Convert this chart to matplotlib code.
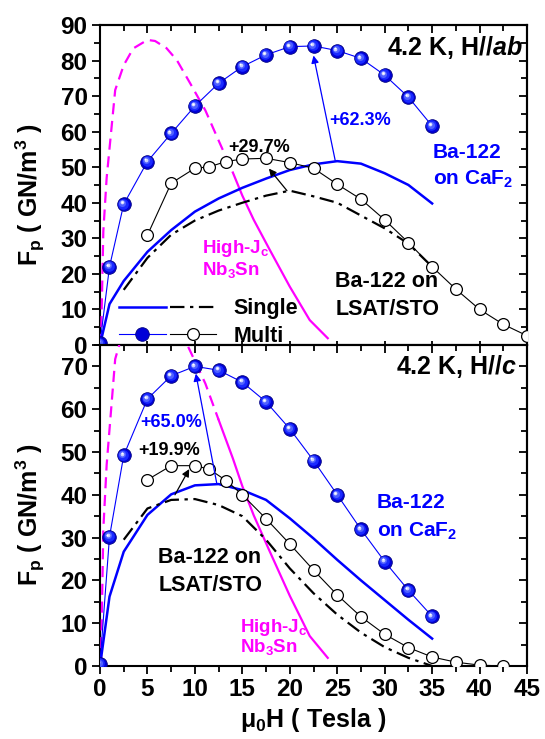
import matplotlib
matplotlib.use('Agg')
import matplotlib.pyplot as plt
from matplotlib.lines import Line2D
from matplotlib.legend_handler import HandlerTuple
from matplotlib.transforms import ScaledTranslation
from matplotlib.ticker import MultipleLocator

# ---------------- data ----------------
# field grid used for the Ba-122 on CaF2 curves
field_caf2 = [0, 1, 2.5, 5, 7.5, 10, 12.5, 15, 17.5, 20, 22.5, 25, 27.5, 30, 32.5, 35]

# H // ab
caf2_ab_multi = [0.5, 22.0, 39.6, 51.6, 59.5, 67.2, 73.6, 78.3, 81.6, 83.9, 84.1, 82.8, 80.6, 75.9, 69.7, 61.6]
caf2_ab_single = [0, 11.5, 18.0, 26.2, 32.3, 37.5, 41.2, 44.2, 46.8, 49.2, 50.8, 51.7, 51.0, 48.3, 45.0, 39.8]

field_lsat_single = [2.5, 5, 7.5, 10, 12.5, 15, 17.5, 20, 22.5, 25, 27.5, 30, 32.5, 35]
lsat_ab_single = [15.5, 24.5, 31.0, 35.0, 37.8, 40.0, 42.0, 43.4, 41.8, 40.0, 36.4, 32.8, 28.5, 22.0]

field_lsat_ab_multi = [5, 7.5, 10, 11.5, 13.3, 15, 17.5, 20, 22.5, 25, 27.5, 30, 32.5, 35, 37.5, 40, 42.5, 45]
lsat_ab_multi = [30.9, 45.5, 49.7, 50.1, 51.6, 52.3, 52.5, 51.3, 49.7, 45.2, 41.0, 35.2, 28.8, 22.0, 15.7, 10.0, 5.8, 2.6]

# H // c
caf2_c_multi = [0.5, 30.2, 49.2, 62.4, 67.8, 70.0, 69.1, 66.3, 61.7, 55.4, 48.0, 40.0, 31.9, 24.4, 17.7, 11.6]
caf2_c_single = [0, 16.2, 26.7, 35.3, 40.1, 42.2, 42.5, 41.1, 38.8, 34.5, 29.8, 24.8, 20.0, 15.4, 10.8, 6.4]

lsat_c_single = [29.5, 36.8, 38.8, 39.0, 37.6, 35.0, 29.5, 22.8, 17.0, 12.0, 7.8, 4.4, 1.9, 0.0]

field_lsat_c_multi = [5, 7.5, 10, 11.5, 13.3, 15, 17.5, 20, 22.5, 25, 27.5, 30, 32.5, 35, 37.5, 40, 42.5]
lsat_c_multi = [43.5, 46.8, 46.8, 46.0, 43.3, 40.0, 34.4, 28.5, 22.4, 16.6, 11.5, 7.4, 4.3, 2.1, 0.9, 0.2, 0.0]

# High-Jc Nb3Sn reference curve (same in both panels)
nb3sn_field = [0.1, 0.35, 0.7, 1.6, 2.5, 3.5, 5.0, 5.8, 7.0, 8.1, 9.5, 11.1, 12.5, 14.0, 15.0, 16.2, 17.9, 20.0, 22.1, 24.0]
nb3sn_fp = [0, 32, 47, 71.7, 78.7, 83.4, 85.8, 85.5, 83.5, 80.1, 73.6, 66.0, 57.5, 48.5, 42.0, 35.2, 26.7, 16.4, 7.0, 1.9]
nb3sn_dashed_until_ab = 14.0
nb3sn_dashed_until_c = 12.5

xticks = [0, 5, 10, 15, 20, 25, 30, 35, 40, 45]

# ---------------- style ----------------
plt.rcParams.update({
    'font.family': ['Liberation Sans', 'DejaVu Sans'],
    'font.weight': 'bold',
    'axes.labelweight': 'bold',
    'mathtext.fontset': 'custom',
    'mathtext.rm': 'Liberation Sans:bold',
    'mathtext.it': 'Liberation Sans:italic:bold',
    'mathtext.bf': 'Liberation Sans:bold',
    'mathtext.default': 'rm',
    'axes.linewidth': 1.5,
})

BLUE = '#0000ff'
MAG = '#ff00ff'

fig = plt.figure(figsize=(5.45, 7.39), dpi=100)
ax1 = fig.add_axes([0.1835, 0.5332, 0.7835, 0.4330])
ax2 = fig.add_axes([0.1835, 0.0988, 0.7835, 0.4344])


def spheres(ax, x, y, ms=9.8):
    ax.plot(x, y, '-', color=BLUE, lw=0.8, zorder=4)
    ax.plot(x, y, 'o', ms=ms, mfc='#0000d8', mec='#000080', mew=0.6, ls='none', zorder=6)
    for size, col, off in [(0.78, '#1a2aff', 0.45), (0.52, '#4f60ff', 0.9), (0.28, '#c8d0ff', 1.3),
                           (0.14, '#ffffff', 1.5)]:
        tr = ax.transData + ScaledTranslation(-off / 72, off / 72, fig.dpi_scale_trans)
        ax.plot(x, y, 'o', ms=ms * size, mfc=col, mec='none', ls='none', transform=tr, zorder=7)


def open_circles(ax, x, y):
    ax.plot(x, y, '-', color='black', lw=0.8, zorder=4,
            marker='o', ms=8.5, mfc='white', mec='black', mew=0.9)


def nb3sn(ax, split):
    xd = [v for v in nb3sn_field if v <= split]
    yd = nb3sn_fp[:len(xd)]
    xs = nb3sn_field[len(xd) - 1:]
    ys = nb3sn_fp[len(xd) - 1:]
    ax.plot(xd, yd, color=MAG, lw=1.6, ls=(0, (5, 3)), zorder=3)
    ax.plot(xs, ys, color=MAG, lw=1.6, zorder=3)


def arrow(ax, start, end, color):
    ax.annotate('', xy=end, xytext=start,
                arrowprops=dict(arrowstyle='-|>', color=color, lw=0.9,
                                mutation_scale=11, shrinkA=0, shrinkB=0), zorder=8)


DASHDOT = (0, (6.5, 2.5, 1.5, 2.5))

# ---------- top panel: H // ab ----------
nb3sn(ax1, nb3sn_dashed_until_ab)
ax1.plot(field_caf2, caf2_ab_single, color=BLUE, lw=1.8, zorder=3)
ax1.plot(field_lsat_single, lsat_ab_single, color='black', lw=1.6, ls=DASHDOT, zorder=3)
open_circles(ax1, field_lsat_ab_multi, lsat_ab_multi)
spheres(ax1, field_caf2, caf2_ab_multi)

arrow(ax1, (24.8, 51.7), (22.5, 81.4), BLUE)
arrow(ax1, (19.7, 43.4), (17.8, 49.6), 'black')

ax1.text(44.6, 81.6, '4.2 K, H//$\\mathit{ab}$', ha='right', va='baseline', fontsize=18)
ax1.text(24.2, 62.0, '+62.3%', color=BLUE, fontsize=13, va='baseline')
ax1.text(13.5, 54.3, '+29.7%', color='black', fontsize=13, va='baseline')
ax1.text(35.1, 52.6, 'Ba-122', color=BLUE, fontsize=15, va='baseline')
ax1.text(35.1, 45.0, 'on CaF$_2$', color=BLUE, fontsize=15, va='baseline')
ax1.text(10.7, 25.8, 'High-J$_c$', color=MAG, fontsize=13.5, va='baseline')
ax1.text(10.7, 19.7, 'Nb$_3$Sn', color=MAG, fontsize=13.5, va='baseline')
ax1.text(24.8, 16.4, 'Ba-122 on', color='black', fontsize=15.5, va='baseline')
ax1.text(24.8, 8.4, 'LSAT/STO', color='black', fontsize=15.5, va='baseline')

# legend
h_single_b = Line2D([], [], color=BLUE, lw=1.8)
h_single_k = Line2D([], [], color='black', lw=1.6, ls=DASHDOT)
h_multi_b = Line2D([], [], color=BLUE, lw=0.8, marker='o', ms=9.8, mfc='#0000d8', mec='#000080', mew=0.6)
h_multi_k = Line2D([], [], color='black', lw=0.8, marker='o', ms=8.5, mfc='white', mec='black', mew=0.9)
ax1.legend([(h_single_b, h_single_k), (h_multi_b, h_multi_k)], ['Single', 'Multi'],
           handler_map={tuple: HandlerTuple(ndivide=None, pad=0.2)},
           loc='center left', bbox_to_anchor=(0.045, 0.07), frameon=False,
           fontsize=15.5, handlelength=4.5, handletextpad=0.8, labelspacing=0.3,
           borderpad=0, borderaxespad=0, numpoints=1)

# ---------- bottom panel: H // c ----------
nb3sn(ax2, nb3sn_dashed_until_c)
ax2.plot(field_caf2, caf2_c_single, color=BLUE, lw=1.8, zorder=3)
ax2.plot(field_lsat_single, lsat_c_single, color='black', lw=1.6, ls=DASHDOT, zorder=3)
open_circles(ax2, field_lsat_c_multi, lsat_c_multi)
spheres(ax2, field_caf2, caf2_c_multi)

arrow(ax2, (12.3, 42.7), (10.1, 68.3), BLUE)
arrow(ax2, (7.9, 40.0), (9.4, 46.0), 'black')

ax2.text(44.0, 68.1, '4.2 K, H//$\\mathit{c}$', ha='right', va='baseline', fontsize=18)
ax2.text(4.2, 55.8, '+65.0%', color=BLUE, fontsize=13, va='baseline')
ax2.text(4.0, 49.3, '+19.9%', color='black', fontsize=13, va='baseline')
ax2.text(29.2, 36.9, 'Ba-122', color=BLUE, fontsize=15, va='baseline')
ax2.text(29.2, 30.2, 'on CaF$_2$', color=BLUE, fontsize=15, va='baseline')
ax2.text(6.15, 24.1, 'Ba-122 on', color='black', fontsize=15.5, va='baseline')
ax2.text(6.15, 17.6, 'LSAT/STO', color='black', fontsize=15.5, va='baseline')
ax2.text(14.75, 8.0, 'High-J$_c$', color=MAG, fontsize=13.5, va='baseline')
ax2.text(14.75, 3.3, 'Nb$_3$Sn', color=MAG, fontsize=13.5, va='baseline')

# ---------- axes ----------
for ax, ymax in ((ax1, 90), (ax2, 75)):
    ax.set_xlim(0, 45)
    ax.set_ylim(0, ymax)
    ax.set_xticks(xticks)
    ax.xaxis.set_minor_locator(MultipleLocator(2.5))
    ax.yaxis.set_major_locator(MultipleLocator(10))
    ax.yaxis.set_minor_locator(MultipleLocator(5))
    ax.tick_params(which='both', direction='out', width=1.3, labelsize=17.5, pad=3)
    ax.tick_params(which='major', length=6)
    ax.tick_params(which='minor', length=4)
    sx = ax.secondary_xaxis('top')
    sx.set_xticks(xticks)
    sx.xaxis.set_minor_locator(MultipleLocator(2.5))
    sx.tick_params(which='both', direction='in', width=1.3, labeltop=False)
    sx.tick_params(which='major', length=6)
    sx.tick_params(which='minor', length=4)
    sy = ax.secondary_yaxis('right')
    sy.yaxis.set_major_locator(MultipleLocator(10))
    sy.yaxis.set_minor_locator(MultipleLocator(5))
    sy.tick_params(which='both', direction='in', width=1.3, labelright=False)
    sy.tick_params(which='major', length=6)
    sy.tick_params(which='minor', length=4)
    ax.set_ylabel('F$_p$ ( GN/m$^3$ )', fontsize=18)
    ax.yaxis.set_label_coords(-0.125, 0.47)

ax1.tick_params(axis='x', labelbottom=False, direction='inout')
ax2.set_xlabel('\u03bc$_0$H ( Tesla )', fontsize=18, labelpad=3)

fig.savefig('out.png', dpi=100)
